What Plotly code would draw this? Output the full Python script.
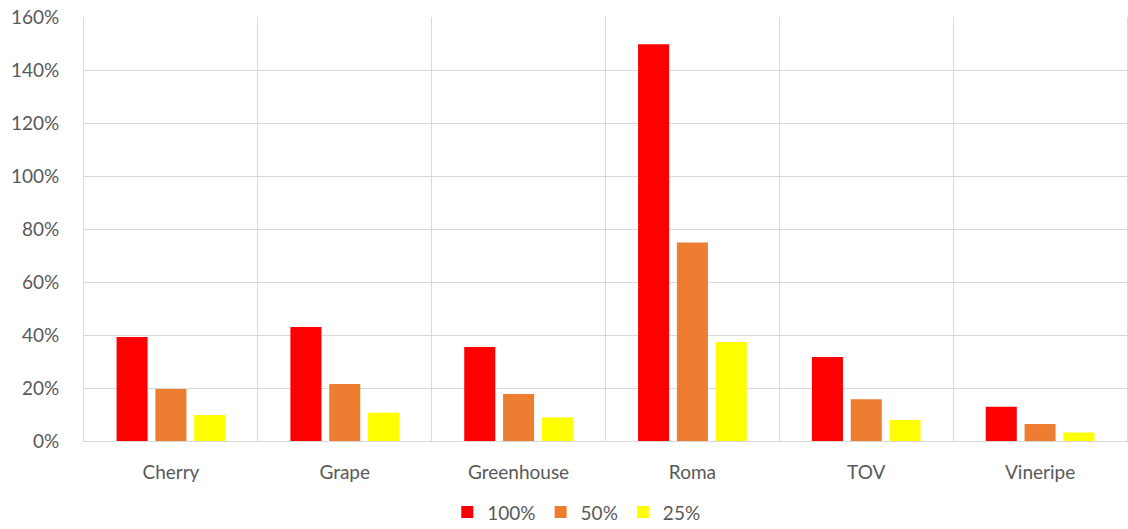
import plotly.graph_objects as go

categories = ["Cherry", "Grape", "Greenhouse", "Roma", "TOV", "Vineripe"]
series_names = ["100%", "50%", "25%"]
vals_100 = [0.392, 0.430, 0.355, 1.497, 0.317, 0.129]
vals_50 = [0.196, 0.215, 0.177, 0.749, 0.158, 0.064]
vals_25 = [0.098, 0.107, 0.089, 0.374, 0.079, 0.032]
colors = ["#FF0000", "#ED7D31", "#FFFF00"]
y_ticks = [0, 0.2, 0.4, 0.6, 0.8, 1.0, 1.2, 1.4, 1.6]
y_tick_labels = ["0%", "20%", "40%", "60%", "80%", "100%", "120%", "140%", "160%"]

font_family = "Lato, 'Open Sans', sans-serif"
grey = "#595959"
fsize = 19

fig = go.Figure()
for name, vals, col in zip(series_names, [vals_100, vals_50, vals_25], colors):
    fig.add_trace(go.Bar(x=categories, y=vals, name=name, marker_color=col,
                         marker_line_width=0))

fig.update_layout(
    width=1128, height=529,
    margin=dict(l=84, r=1, t=17, b=88, autoexpand=False),
    paper_bgcolor="white", plot_bgcolor="white",
    barmode="group", bargap=0.33, bargroupgap=0.2,
    font=dict(family=font_family, size=fsize, color=grey),
    legend=dict(orientation="h", x=0.472, xanchor="center", y=-0.168, yanchor="middle",
                font=dict(size=fsize, color=grey), itemwidth=30, traceorder="normal"),
    showlegend=True,
)
fig.update_xaxes(type="category", tickson="boundaries", showgrid=True, gridcolor="#D9D9D9",
                 gridwidth=1, ticks="", showline=True, linecolor="#D9D9D9", mirror=False,
                 tickfont=dict(size=fsize, color=grey), ticklabelstandoff=14,
                 range=[-0.5, 5.5])
fig.update_yaxes(range=[0, 1.6], tickvals=y_ticks, ticktext=y_tick_labels,
                 showgrid=True, gridcolor="#D9D9D9", gridwidth=1, zeroline=False,
                 showline=True, linecolor="#D9D9D9", mirror=True,
                 ticks="", tickfont=dict(size=fsize, color=grey),
                 ticklabelstandoff=20)

fig.write_html("out.html")
